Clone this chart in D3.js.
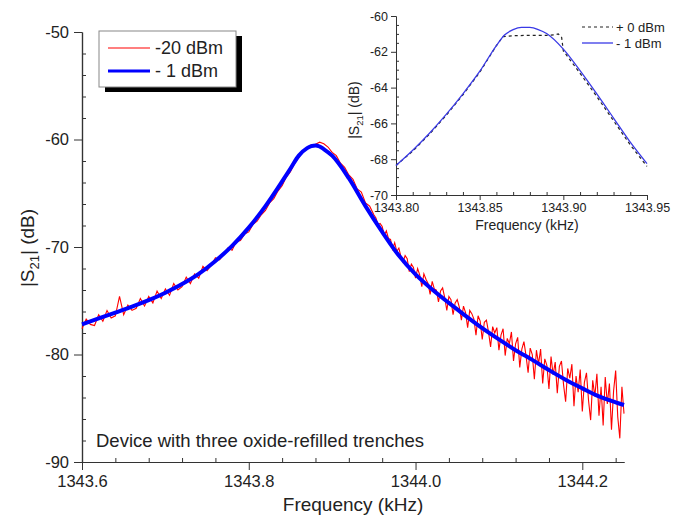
<!DOCTYPE html>
<html>
<head>
<meta charset="utf-8">
<script src="https://cdn.jsdelivr.net/npm/d3@7"></script>
<style>
  body { margin: 0; background: #fff; }
  svg { font-family: "Liberation Sans", Arial, sans-serif; }
  .axis path, .axis line { stroke: #333; }
  .axis text { fill: #222; }
</style>
</head>
<body>
<svg id="chart" width="677" height="518"></svg>
<script>
// ---- main chart data ----
const xTicks = [1343.6, 1343.8, 1344.0, 1344.2];
const yTicks = [-50, -60, -70, -80, -90];

// -1 dBm (blue), smooth trace
const blueFreq = [1343.60, 1343.62, 1343.64, 1343.66, 1343.68, 1343.70, 1343.72, 1343.74, 1343.76, 1343.78,
  1343.80, 1343.82, 1343.84, 1343.85, 1343.86, 1343.87, 1343.875, 1343.88, 1343.885, 1343.89, 1343.90,
  1343.92, 1343.94, 1343.96, 1343.98, 1344.00, 1344.02, 1344.04, 1344.06, 1344.08, 1344.10, 1344.12,
  1344.14, 1344.16, 1344.18, 1344.20, 1344.22, 1344.24, 1344.25];
const blueS21 = [-77.2, -76.65, -76.1, -75.55, -74.95, -74.25, -73.45, -72.5, -71.3, -69.9,
  -68.2, -66.2, -63.9, -62.7, -61.5, -60.8, -60.62, -60.55, -60.65, -60.9, -61.5,
  -63.6, -66.2, -68.6, -70.8, -72.55, -73.95, -75.2, -76.4, -77.55, -78.6, -79.6,
  -80.5, -81.45, -82.35, -83.15, -83.9, -84.45, -84.7];

// -20 dBm (red), noisy trace: 1343.600..1343.950 every 0.005 kHz
const redS21A = [-77.6, -76.7, -77.2, -77.3, -76.3, -76.9, -75.9, -76.6, -76.4, -74.6,
  -76.3, -75.4, -75.9, -75.7, -74.8, -75.5, -74.6, -75.2, -74.1, -74.8,
  -73.9, -74.5, -73.4, -74.0, -73.7, -72.8, -73.4, -72.5, -72.9, -71.8,
  -72.2, -71.7, -71.0, -71.2, -70.7, -70.1, -70.3, -69.5, -69.4, -68.8,
  -68.6, -67.9, -67.6, -67.0, -66.6, -65.9, -65.5, -64.8, -64.3, -63.5,
  -63.0, -62.2, -61.7, -61.1, -60.9, -60.5, -60.45, -60.25, -60.4, -60.7,
  -61.2, -61.5, -62.2, -62.6, -63.3, -63.7, -64.6, -64.9, -65.9, -66.2, -67.0];
// 1343.9525..1344.2500 every 0.0025 kHz
const redS21B = [-67.3, -67.9, -67.8, -68.1, -68.9, -68.5, -69.2, -69.3, -70.2, -69.6,
  -70.4, -70.1, -70.9, -71.4, -70.8, -71.1, -72.3, -71.6, -71.9, -72.9,
  -72.0, -72.6, -73.7, -72.5, -73.0, -73.4, -74.4, -73.2, -73.9, -74.0,
  -75.1, -74.1, -73.8, -74.7, -75.9, -74.6, -74.9, -76.3, -75.2, -74.9,
  -75.6, -76.8, -75.5, -76.1, -77.5, -75.9, -76.2, -76.7, -78.2, -76.4,
  -76.9, -78.6, -77.0, -76.8, -77.9, -79.3, -77.4, -78.0, -77.5, -79.6,
  -78.2, -77.6, -80.1, -78.5, -79.0, -77.9, -80.6, -79.0, -78.4, -81.2,
  -79.5, -78.8, -80.1, -81.7, -79.4, -80.0, -82.3, -79.6, -80.9, -79.5,
  -82.7, -80.4, -81.0, -83.2, -80.2, -81.9, -80.7, -83.6, -81.1, -80.6,
  -82.8, -84.4, -81.3, -82.2, -80.9, -84.8, -82.0, -83.5, -81.4, -85.3,
  -82.6, -81.7, -84.3, -86.1, -82.4, -83.9, -81.8, -85.7, -83.0, -86.6,
  -82.1, -84.6, -82.7, -87.0, -83.4, -81.5, -85.8, -87.8, -83.0, -85.5];

// ---- inset data ----
const insetXTicks = [1343.80, 1343.85, 1343.90, 1343.95];
const insetYTicks = [-60, -62, -64, -66, -68, -70];
const insetBlueFreq = [1343.80, 1343.81, 1343.82, 1343.83, 1343.84, 1343.85, 1343.86, 1343.865, 1343.87, 1343.875,
  1343.88, 1343.885, 1343.89, 1343.90, 1343.91, 1343.92, 1343.93, 1343.94, 1343.95];
const insetBlueS21 = [-68.35, -67.5, -66.55, -65.5, -64.35, -63.1, -61.65, -61.05, -60.76, -60.63,
  -60.64, -60.76, -60.98, -61.85, -63.05, -64.35, -65.7, -67.05, -68.25];
const insetDashFreq = [1343.80, 1343.81, 1343.82, 1343.83, 1343.84, 1343.85, 1343.86, 1343.864, 1343.87,
  1343.88, 1343.89, 1343.895, 1343.897, 1343.899, 1343.900, 1343.91, 1343.92, 1343.93, 1343.94, 1343.95];
const insetDashS21 = [-68.35, -67.55, -66.6, -65.55, -64.4, -63.15, -61.65, -61.15, -61.1,
  -61.08, -61.08, -61.05, -61.0, -61.2, -61.95, -63.2, -64.5, -65.85, -67.2, -68.4];

const svg = d3.select("#chart");

// ---------- main panel ----------
const x = d3.scaleLinear().domain([1343.6, 1344.25]).range([82, 624]);
const y = d3.scaleLinear().domain([-90, -50]).range([462, 32]);

const xMinor = d3.range(1343.64, 1344.25, 0.04).filter(v => !xTicks.some(t => Math.abs(t - v) < 1e-6));
const yMinor = d3.range(-88, -50, 2).filter(v => v % 10 !== 0);

svg.append("g").attr("class", "axis").attr("transform", "translate(0,462)")
  .call(d3.axisBottom(x).tickValues(xMinor).tickSize(-4).tickSizeOuter(0).tickFormat(""));
svg.append("g").attr("class", "axis").attr("transform", "translate(0,462)")
  .call(d3.axisBottom(x).tickValues(xTicks).tickSize(8).tickSizeOuter(0).tickPadding(5)
    .tickFormat(d3.format(".1f")))
  .call(g => g.selectAll("text").attr("font-size", 16.5));

svg.append("g").attr("class", "axis").attr("transform", "translate(82,0)")
  .call(d3.axisLeft(y).tickValues(yMinor).tickSize(-4).tickSizeOuter(0).tickFormat(""));
svg.append("g").attr("class", "axis").attr("transform", "translate(82,0)")
  .call(d3.axisLeft(y).tickValues(yTicks).tickSize(8).tickSizeOuter(0).tickPadding(5)
    .tickFormat(d => String(d)))
  .call(g => g.selectAll("text").attr("font-size", 16.5));

svg.selectAll(".axis path").attr("stroke-width", 1.2);

// axis titles
svg.append("text").attr("x", 353).attr("y", 511).attr("text-anchor", "middle")
  .attr("font-size", 19).attr("fill", "#222").text("Frequency (kHz)");

const yTitle = svg.append("text").attr("transform", "translate(34,248) rotate(-90)")
  .attr("text-anchor", "middle").attr("font-size", 19).attr("fill", "#222");
yTitle.append("tspan").text("|S");
yTitle.append("tspan").attr("font-size", 13).attr("dy", 5).text("21");
yTitle.append("tspan").attr("dy", -5).text("| (dB)");

// traces
const redData = redS21A.map((v, i) => [1343.6 + i * 0.005, v])
  .concat(redS21B.map((v, i) => [1343.9525 + i * 0.0025, v]));
const blueData = blueFreq.map((f, i) => [f, blueS21[i]]);

const line = d3.line().x(d => x(d[0])).y(d => y(d[1]));

svg.append("path").datum(redData).attr("fill", "none").attr("stroke", "#ff0000")
  .attr("stroke-width", 1.1).attr("d", line);
svg.append("path").datum(blueData).attr("fill", "none").attr("stroke", "#0000ff")
  .attr("stroke-width", 4).attr("stroke-linejoin", "round")
  .attr("d", line.curve(d3.curveMonotoneX));

// legend
const leg = svg.append("g");
leg.append("rect").attr("x", 105).attr("y", 36).attr("width", 137).attr("height", 56).attr("fill", "#000");
leg.append("rect").attr("x", 99).attr("y", 31).attr("width", 137).attr("height", 56)
  .attr("fill", "#fff").attr("stroke", "#888").attr("stroke-width", 1);
leg.append("line").attr("x1", 108).attr("x2", 150).attr("y1", 48).attr("y2", 48)
  .attr("stroke", "#ff0000").attr("stroke-width", 1.2);
leg.append("line").attr("x1", 108).attr("x2", 150).attr("y1", 71).attr("y2", 71)
  .attr("stroke", "#0000ff").attr("stroke-width", 3);
leg.append("text").attr("x", 155).attr("y", 54).attr("font-size", 18).attr("fill", "#222").text("-20 dBm");
leg.append("text").attr("x", 155).attr("y", 77).attr("font-size", 18).attr("fill", "#222").text("- 1 dBm");

svg.append("text").attr("x", 96).attr("y", 447).attr("font-size", 18.5).attr("fill", "#222")
  .text("Device with three oxide-refilled trenches");

// ---------- inset ----------
const ix = d3.scaleLinear().domain([1343.80, 1343.95]).range([396, 647]);
const iy = d3.scaleLinear().domain([-70, -60]).range([195, 16]);

const ixMinor = d3.range(1343.81, 1343.95, 0.01).filter(v => !insetXTicks.some(t => Math.abs(t - v) < 1e-6));
const iyMinor = d3.range(-69.5, -60, 0.5).filter(v => !insetYTicks.includes(v));

svg.append("rect").attr("x", 396).attr("y", 10).attr("width", 260).attr("height", 186).attr("fill", "#fff");

svg.append("g").attr("class", "axis").attr("transform", "translate(0,195)")
  .call(d3.axisBottom(ix).tickValues(ixMinor).tickSize(-3).tickSizeOuter(0).tickFormat(""));
svg.append("g").attr("class", "axis").attr("transform", "translate(0,195)")
  .call(d3.axisBottom(ix).tickValues(insetXTicks).tickSize(5).tickSizeOuter(0).tickPadding(3)
    .tickFormat(d3.format(".2f")))
  .call(g => g.selectAll("text").attr("font-size", 12.5));
svg.append("g").attr("class", "axis").attr("transform", "translate(396,0)")
  .call(d3.axisLeft(iy).tickValues(iyMinor).tickSize(-3).tickSizeOuter(0).tickFormat(""));
svg.append("g").attr("class", "axis").attr("transform", "translate(396,0)")
  .call(d3.axisLeft(iy).tickValues(insetYTicks).tickSize(5).tickSizeOuter(0).tickPadding(3)
    .tickFormat(d => String(d)))
  .call(g => g.selectAll("text").attr("font-size", 12.5));

svg.append("text").attr("x", 527).attr("y", 230).attr("text-anchor", "middle")
  .attr("font-size", 14).attr("fill", "#222").text("Frequency (kHz)");
const iyTitle = svg.append("text").attr("transform", "translate(359,110) rotate(-90)")
  .attr("text-anchor", "middle").attr("font-size", 14).attr("fill", "#222");
iyTitle.append("tspan").text("|S");
iyTitle.append("tspan").attr("font-size", 9.5).attr("dy", 3.5).text("21");
iyTitle.append("tspan").attr("dy", -3.5).text("| (dB)");

const iline = d3.line().x(d => ix(d[0])).y(d => iy(d[1]));
svg.append("path").datum(insetDashFreq.map((f, i) => [f, insetDashS21[i]]))
  .attr("fill", "none").attr("stroke", "#222").attr("stroke-width", 1.2)
  .attr("stroke-dasharray", "3,3").attr("d", iline);
svg.append("path").datum(insetBlueFreq.map((f, i) => [f, insetBlueS21[i]]))
  .attr("fill", "none").attr("stroke", "#3a3ae6").attr("stroke-width", 1.3)
  .attr("d", iline.curve(d3.curveMonotoneX));

// inset legend
svg.append("line").attr("x1", 582).attr("x2", 613).attr("y1", 27).attr("y2", 27)
  .attr("stroke", "#222").attr("stroke-width", 1.2).attr("stroke-dasharray", "3,3");
svg.append("line").attr("x1", 582).attr("x2", 613).attr("y1", 43).attr("y2", 43)
  .attr("stroke", "#3a3ae6").attr("stroke-width", 1.3);
svg.append("text").attr("x", 616).attr("y", 32).attr("font-size", 13).attr("fill", "#222").text("+ 0 dBm");
svg.append("text").attr("x", 616).attr("y", 48).attr("font-size", 13).attr("fill", "#222").text("- 1 dBm");
</script>
</body>
</html>
